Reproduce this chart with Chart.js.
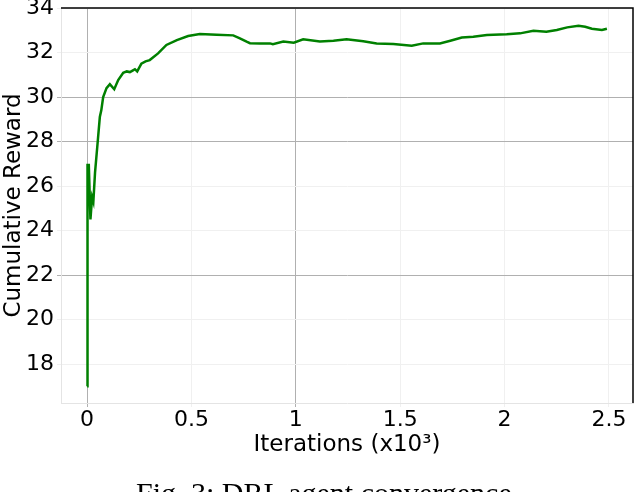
<!DOCTYPE html>
<html>
<head>
<meta charset="utf-8">
<script src="https://cdn.jsdelivr.net/npm/chart.js@4"></script>
<style>
  html, body { margin: 0; padding: 0; background: #fff; overflow: hidden; }
  #wrap { position: relative; width: 634px; height: 492px; }
  #caption {
    position: absolute; left: 136px; top: 478px;
    font: 30px "Liberation Serif", "Times New Roman", serif;
    line-height: 1; white-space: nowrap; color: #000;
  }
</style>
</head>
<body>
<div id="wrap">
  <canvas id="convChart" width="634" height="492"></canvas>
  <div id="caption">Fig. 3: DRL agent convergence</div>
</div>
<script>
// iterations in thousands, reward
const iterations = [0, 0.002, 0.005, 0.008, 0.016, 0.024, 0.03, 0.038, 0.05, 0.061, 0.068, 0.077,
  0.093, 0.109, 0.13, 0.149, 0.173, 0.19, 0.205, 0.22, 0.229, 0.24, 0.26, 0.28, 0.30, 0.34,
  0.38, 0.43, 0.484, 0.54, 0.62, 0.70, 0.732, 0.764, 0.78, 0.828, 0.876, 0.89, 0.94, 0.99,
  1.035, 1.115, 1.18, 1.243, 1.323, 1.387, 1.467, 1.555, 1.61, 1.69, 1.74, 1.795, 1.85,
  1.915, 2.01, 2.074, 2.138, 2.20, 2.25, 2.30, 2.354, 2.386, 2.418, 2.466, 2.49];
const reward = [17.0, 27.0, 26.6, 27.0, 24.5, 25.5, 25.3, 26.6, 27.9, 29.1, 29.4, 30.0,
  30.4, 30.58, 30.35, 30.76, 31.09, 31.15, 31.12, 31.2, 31.25, 31.15, 31.5, 31.6, 31.66, 31.96,
  32.34, 32.56, 32.74, 32.83, 32.80, 32.77, 32.64, 32.49, 32.42, 32.41, 32.41, 32.37, 32.49, 32.44,
  32.59, 32.49, 32.53, 32.59, 32.51, 32.41, 32.38, 32.30, 32.41, 32.41, 32.53, 32.67, 32.71,
  32.79, 32.82, 32.86, 32.98, 32.93, 33.01, 33.13, 33.20, 33.16, 33.07, 33.01, 33.07];
const xTicks = [0, 0.5, 1, 1.5, 2, 2.5];
const yTicks = [18, 20, 22, 24, 26, 28, 30, 32, 34];
const xDarkGrid = [0, 1];
const yDarkGrid = [22, 28, 30];

const points = iterations.map((x, i) => ({ x: x, y: reward[i] }));

const FONT = 'DejaVu Sans';

// top and right spines are black
const frame = {
  id: 'frame',
  afterDraw(chart) {
    const { ctx, chartArea: a } = chart;
    ctx.save();
    ctx.strokeStyle = '#000';
    ctx.lineWidth = 1.5;
    ctx.beginPath();
    ctx.moveTo(a.left, a.top);
    ctx.lineTo(a.right, a.top);
    ctx.lineTo(a.right, a.bottom);
    ctx.stroke();
    ctx.restore();
  }
};

const ctx = document.getElementById('convChart').getContext('2d');

const convChart = new Chart(ctx, {
  type: 'line',
  data: {
    datasets: [{
      label: 'Cumulative Reward',
      data: points,
      borderColor: '#008000',
      borderWidth: 2.5,
      pointRadius: 0,
      tension: 0,
      fill: false
    }]
  },
  options: {
    responsive: false,
    animation: false,
    layout: { padding: { top: 8, right: 1 } },
    plugins: {
      legend: { display: false },
      tooltip: { enabled: false }
    },
    scales: {
      x: {
        type: 'linear',
        min: -0.125,
        max: 2.615,
        afterBuildTicks: s => { s.ticks = xTicks.map(v => ({ value: v })); },
        afterFit: s => { s.height = 89; s.paddingLeft = 0; s.paddingRight = 0; },
        border: { color: '#e4e4e4', width: 1 },
        grid: {
          color: c => xDarkGrid.includes(c.tick && c.tick.value) ? '#b0b0b0' : '#f0f0f0',
          tickLength: 4
        },
        ticks: {
          color: '#000',
          padding: 0,
          maxRotation: 0,
          font: { family: FONT, size: 22 },
          callback: v => String(v)
        },
        title: {
          display: true,
          text: 'Iterations (x10³)',
          color: '#000',
          font: { family: FONT, size: 23 },
          padding: { top: 0, bottom: 33 }
        }
      },
      y: {
        min: 16.25,
        max: 34,
        afterBuildTicks: s => { s.ticks = yTicks.map(v => ({ value: v })); },
        afterFit: s => { s.width = 61; s.paddingTop = 0; s.paddingBottom = 0; },
        border: { color: '#e4e4e4', width: 1 },
        grid: {
          color: c => yDarkGrid.includes(c.tick && c.tick.value) ? '#b0b0b0' : '#f0f0f0',
          tickLength: 4
        },
        ticks: {
          color: '#000',
          padding: 3,
          font: { family: FONT, size: 22 },
          callback: v => String(v)
        },
        title: {
          display: true,
          text: 'Cumulative Reward',
          color: '#000',
          font: { family: FONT, size: 23 },
          padding: { top: 0, bottom: 0 }
        }
      }
    }
  },
  plugins: [frame]
});
</script>
</body>
</html>
